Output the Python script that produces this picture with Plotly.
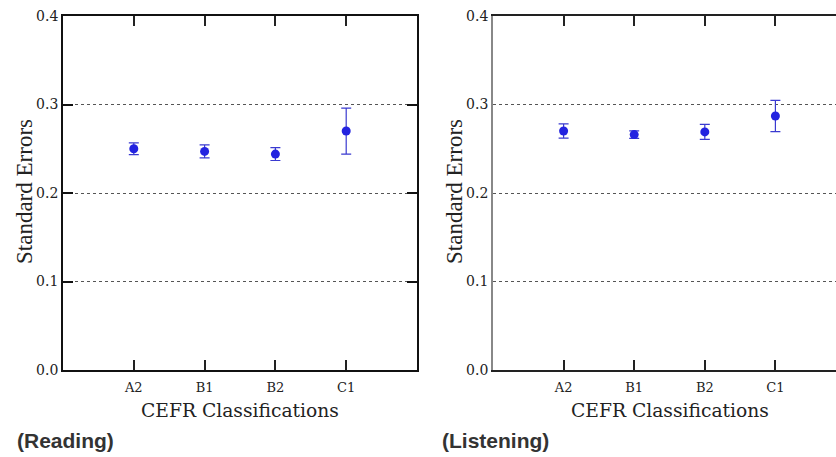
import plotly.graph_objects as go

categories = ["A2", "B1", "B2", "C1"]
cat_pos = [1, 2, 3, 4]
reading_se = [0.250, 0.247, 0.244, 0.270]
reading_err = [0.0066, 0.0073, 0.0073, 0.026]
listening_se = [0.270, 0.266, 0.269, 0.287]
listening_err = [0.008, 0.0043, 0.0085, 0.0177]
y_ticks = [0.0, 0.1, 0.2, 0.3, 0.4]
y_ticklabels = ["0.0", "0.1", "0.2", "0.3", "0.4"]

W, H = 836, 457
BLUE = "#2323e0"
ERRC = "#3a3ad0"
SERIF = "Liberation Serif, Times New Roman, serif"
CAMB = "DejaVu Serif, serif"

fig = go.Figure()
for vals, errs, xa, ya in [(reading_se, reading_err, "x", "y"),
                           (listening_se, listening_err, "x2", "y2")]:
    fig.add_trace(go.Scatter(
        x=cat_pos, y=vals, mode="markers", xaxis=xa, yaxis=ya,
        marker=dict(color=BLUE, size=9),
        error_y=dict(type="data", array=errs, visible=True, color=ERRC,
                     thickness=1.2, width=5),
        showlegend=False))

ydom = [1 - 370 / H, 1 - 16 / H]
common_x = dict(tickmode="array", tickvals=cat_pos, ticktext=categories,
                ticks="inside", ticklen=10, tickwidth=1.5, tickcolor="#222",
                showgrid=False, zeroline=False, showline=True, linewidth=1.8,
                automargin=False, ticklabelstandoff=4,
                tickfont=dict(family=CAMB, size=13, color="#222"))
common_y = dict(range=[0, 0.4], tickvals=y_ticks, ticktext=y_ticklabels,
                showgrid=True, gridcolor="#555", griddash="dot", gridwidth=1,
                zeroline=False, showline=True, linewidth=1.8,
                automargin=False,
                tickfont=dict(family=CAMB, size=14, color="#222"))

fig.update_layout(
    width=W, height=H, margin=dict(l=0, r=0, t=0, b=0, autoexpand=False),
    paper_bgcolor="white", plot_bgcolor="white",
    xaxis=dict(domain=[63 / W, 417 / W], range=[0, 5], anchor="y",
               mirror="ticks", linecolor="#111", **common_x),
    yaxis=dict(domain=ydom, anchor="x", mirror="ticks", linecolor="#111",
               ticks="inside", ticklen=10, tickwidth=1.8, tickcolor="#111",
               **common_y),
    xaxis2=dict(domain=[493 / W, 1.0], range=[0, 343 / 70.6], anchor="y2",
                mirror="ticks", linecolor="#222", **common_x),
    yaxis2=dict(domain=ydom, anchor="x2", mirror=False, linecolor="#888",
                ticks="", **common_y),
)

annos = [
    dict(text="Standard Errors", x=24 / W, y=1 - 192 / H, textangle=-90,
         font=dict(family=SERIF, size=23, color="#222")),
    dict(text="Standard Errors", x=454 / W, y=1 - 192 / H, textangle=-90,
         font=dict(family=SERIF, size=23, color="#222")),
    dict(text="CEFR Classifications", x=240 / W, y=1 - 410 / H,
         font=dict(family=CAMB, size=18.7, color="#222")),
    dict(text="CEFR Classifications", x=670 / W, y=1 - 410 / H,
         font=dict(family=CAMB, size=18.7, color="#222")),
    dict(text="<b>(Reading)</b>", x=15 / W, y=1 - 440 / H, xanchor="left",
         font=dict(family="Liberation Sans, Arial, sans-serif", size=21, color="#333")),
    dict(text="<b>(Listening)</b>", x=440 / W, y=1 - 440 / H, xanchor="left",
         font=dict(family="Liberation Sans, Arial, sans-serif", size=21, color="#333")),
]
for a in annos:
    a.setdefault("xanchor", "center")
    fig.add_annotation(xref="paper", yref="paper", showarrow=False,
                       yanchor="middle", **a)

fig.write_html("out.html", config={"displayModeBar": False},
               post_script="document.body.style.margin='0';"
                           "document.body.style.overflow='hidden';")
